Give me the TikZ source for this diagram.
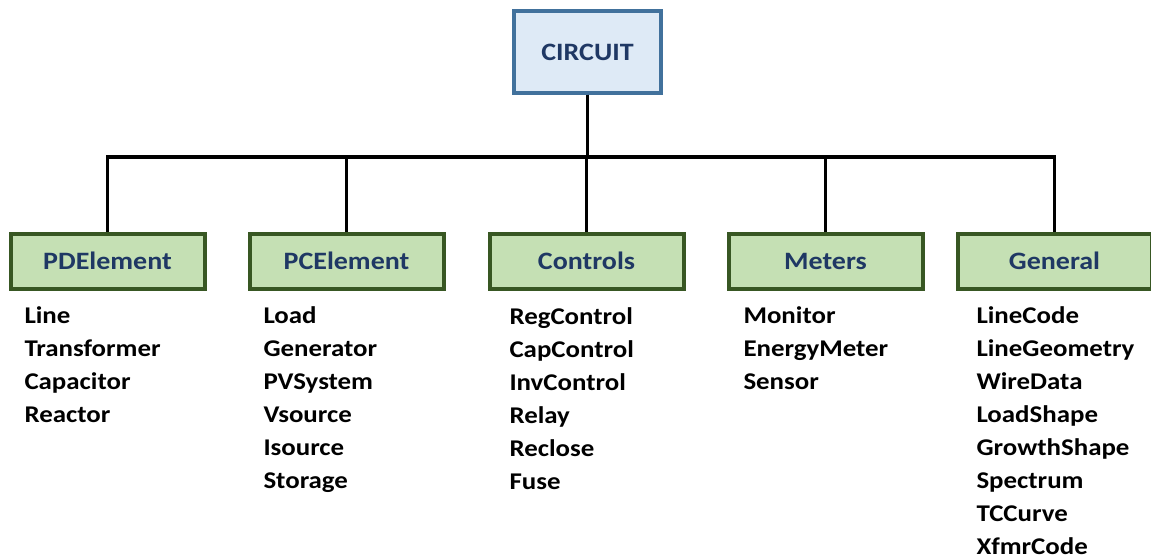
\documentclass[tikz,border=0pt]{standalone}
\usepackage{fontspec}
\setmainfont{Carlito}[FakeStretch=1.12]
\usetikzlibrary{positioning}

\definecolor{topfill}{HTML}{DEEAF6}
\definecolor{topedge}{HTML}{41719C}
\definecolor{grpfill}{HTML}{C5E0B4}
\definecolor{grpedge}{HTML}{385723}
\definecolor{labeltext}{HTML}{1F3864}

\tikzset{
  topbox/.style={draw=topedge, fill=topfill, line width=4pt, minimum width=147pt,
    minimum height=82pt, text=labeltext, font=\fontsize{25}{30}\selectfont\bfseries},
  grpbox/.style={draw=grpedge, fill=grpfill, line width=4pt, minimum width=194pt,
    minimum height=55pt, text=labeltext, font=\fontsize{25}{30}\selectfont\bfseries},
  item/.style={anchor=base west, inner sep=0pt, font=\fontsize{24}{28}\selectfont\bfseries},
}

\begin{document}
\begin{tikzpicture}[x=1pt, y=-1pt, line width=3pt]

  \useasboundingbox (0,0) rectangle (1151,559);

  % Root and groups
  \node[topbox] (circuit) at (587.5,52) {CIRCUIT};
  \node[grpbox] (pd)  at (107.5,261) {PDElement};
  \node[grpbox] (pc)  at (346.5,261) {PCElement};
  \node[grpbox] (ctl) at (586.5,261) {Controls};
  \node[grpbox] (met) at (825.5,261) {Meters};
  \node[grpbox] (gen) at (1054.5,261) {General};

  % Tree connectors
  \coordinate (bus) at (0,157);
  \foreach \g in {pd,pc,ctl,met,gen}
    \draw (circuit.south) -- (circuit.south |- bus) -| (\g.north);

  % Member lists
  \foreach \t [count=\i] in {Line,Transformer,Capacitor,Reactor}
    \node[item] (pd-\i) at (23,{323+33.1*(\i-1)}) {\t};
  \foreach \t [count=\i] in {Load,Generator,PVSystem,Vsource,Isource,Storage}
    \node[item] (pc-\i) at (262,{323+33.1*(\i-1)}) {\t};
  \foreach \t [count=\i] in {RegControl,CapControl,InvControl,Relay,Reclose,Fuse}
    \node[item] (ctl-\i) at (508,{324+33.1*(\i-1)}) {\t};
  \foreach \t [count=\i] in {Monitor,EnergyMeter,Sensor}
    \node[item] (met-\i) at (742,{323+33.1*(\i-1)}) {\t};
  \foreach \t [count=\i] in {LineCode,LineGeometry,WireData,LoadShape,GrowthShape,Spectrum,TCCurve,XfmrCode}
    \node[item] (gen-\i) at (975,{323+33.1*(\i-1)}) {\t};

\end{tikzpicture}
\end{document}
